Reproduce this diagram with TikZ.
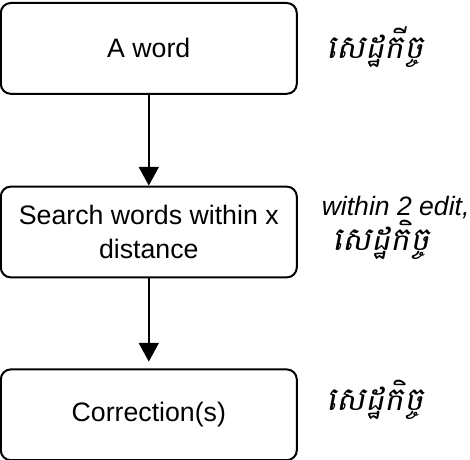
\documentclass[tikz,border=0pt]{standalone}
\usepackage{fontspec}
\setmainfont{Liberation Sans}
\newfontfamily\khmerfont[Script=Khmer,FakeSlant=0.2,Scale=1.22]{Battambang}
\usetikzlibrary{positioning,arrows.meta}
\tikzset{
  stepbox/.style={draw, rounded corners=0.25cm, line width=0.05cm, minimum width=7.4cm, minimum height=2.27cm, align=center, font=\fontsize{19}{24}\selectfont},
  note/.style={anchor=west, align=left, font=\fontsize{18.9}{23}\selectfont\itshape},
  flow/.style={-{Triangle[length=0.47cm,width=0.5cm]}, line width=0.05cm}
}

\begin{document}
\begin{tikzpicture}
		\useasboundingbox (0,0) rectangle (11.75,-11.5);
		% Simplified spelling correction flow
		\node[stepbox] (word) at (3.72,-1.21) {A word};
		\node[stepbox, below=2.27cm of word] (search) {Search words within x\\distance};
		\node[stepbox, below=2.25cm of search] (correction) {Correction(s)};
		
		\draw[flow] (word) -- (search);
		\draw[flow] (search) -- ([yshift=0.17cm]correction.north);
		
		\node[note] (wordnote) at (8.05,-1.17) {\khmerfont សេដ្ឋកីច្ច};
		\node[note] (searchnote) at (7.92,-5.7) {within 2 edit,\\\khmerfont\ សេដ្ឋកិច្ច};
		\node[note] (correctionnote) at (8.05,-10.0) {\khmerfont សេដ្ឋកិច្ច};
	\end{tikzpicture}
\end{document}
